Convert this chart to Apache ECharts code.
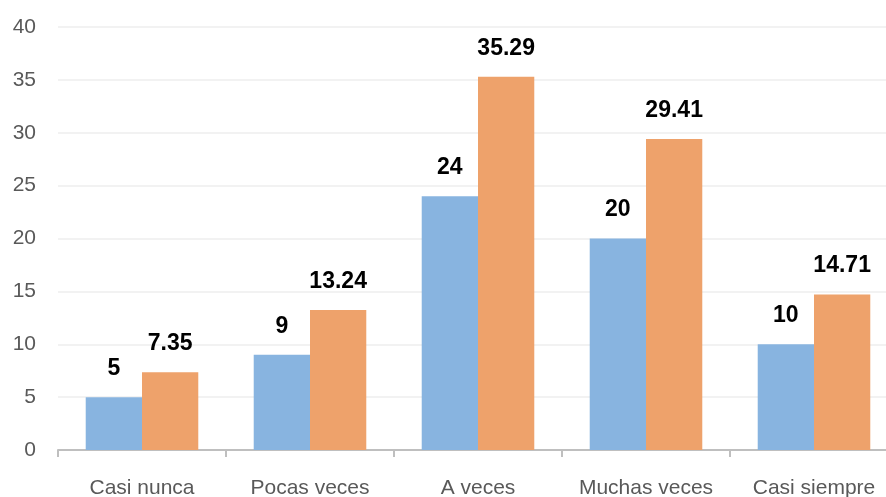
<!DOCTYPE html>
<html><head><meta charset="utf-8">
<script src="https://cdn.jsdelivr.net/npm/echarts@6/dist/echarts.min.js"></script>
<style>html,body{margin:0;padding:0;background:#fff}#c{width:886px;height:497px}</style>
</head><body><div id="c"></div>
<script>
const categories = ['Casi nunca', 'Pocas veces', 'A veces', 'Muchas veces', 'Casi siempre'];
const seriesA = [5, 9, 24, 20, 10];
const seriesB = [7.35, 13.24, 35.29, 29.41, 14.71];
const yTicks = [0, 5, 10, 15, 20, 25, 30, 35, 40];

const chart = echarts.init(document.getElementById('c'), null, {renderer: 'canvas'});
const font = "'Liberation Sans', sans-serif";
const labelCfg = {show: true, position: 'top', distance: 17, color: '#000', fontWeight: 'bold', fontSize: 23, fontFamily: font};
chart.setOption({
  animation: false,
  grid: {left: 58, right: -12, top: 27, bottom: 47, containLabel: false, outerBoundsMode: 'none'},
  xAxis: {
    type: 'category', data: categories,
    axisLine: {lineStyle: {color: '#bfbfbf', width: 2}},
    axisTick: {show: true, length: 7, lineStyle: {color: '#bfbfbf', width: 2}},
    axisLabel: {color: '#595959', fontSize: 21, fontFamily: font, margin: 28, interval: 0, hideOverlap: false}
  },
  yAxis: {
    type: 'value', min: yTicks[0], max: yTicks[yTicks.length - 1], interval: 5,
    axisLine: {show: false}, axisTick: {show: false},
    splitLine: {lineStyle: {color: '#eeeeee', width: 1.5}},
    axisLabel: {color: '#595959', fontSize: 21, fontFamily: font, margin: 22}
  },
  series: [
    {type: 'bar', data: seriesA, barGap: '0%', barCategoryGap: '33%', itemStyle: {color: '#88b4e0'}, label: labelCfg},
    {type: 'bar', data: seriesB, barGap: '0%', barCategoryGap: '33%', itemStyle: {color: '#eea26b'}, label: labelCfg}
  ]
});
</script></body></html>
